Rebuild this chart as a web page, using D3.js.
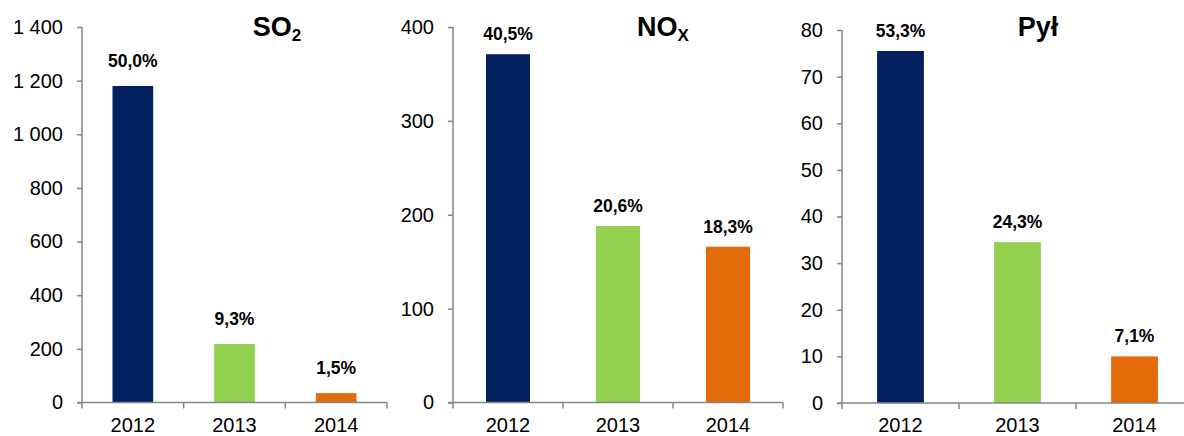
<!DOCTYPE html>
<html>
<head>
<meta charset="utf-8">
<script src="https://cdn.jsdelivr.net/npm/d3@7"></script>
<style>
  body { margin: 0; background: #fff; }
  text { font-family: Arial, "Liberation Sans", sans-serif; }
</style>
</head>
<body>
<div id="chart"></div>
<script>
var width = 1184, height = 436;

// data
var years = ["2012", "2013", "2014"];
var colors = ["#03215f", "#92d050", "#e36c0a"];

var so2Values = [1180, 218, 35];
var so2Labels = ["50,0%", "9,3%", "1,5%"];
var so2Ticks = [0, 200, 400, 600, 800, 1000, 1200, 1400];

var noxValues = [371, 188, 166];
var noxLabels = ["40,5%", "20,6%", "18,3%"];
var noxTicks = [0, 100, 200, 300, 400];

var pylValues = [75.5, 34.5, 10];
var pylLabels = ["53,3%", "24,3%", "7,1%"];
var pylTicks = [0, 10, 20, 30, 40, 50, 60, 70, 80];

var panels = [
  { title: "SO", sub: "2", values: so2Values, labels: so2Labels, ticks: so2Ticks, max: 1400,
    x0: 82, x1: 387, top: 27, bottom: 402.5, titleX: 277, gap: 25 },
  { title: "NO", sub: "X", values: noxValues, labels: noxLabels, ticks: noxTicks, max: 400,
    x0: 453, x1: 783, top: 27, bottom: 402.5, titleX: 663, gap: 20 },
  { title: "Pył", sub: "", values: pylValues, labels: pylLabels, ticks: pylTicks, max: 80,
    x0: 842, x1: 1193, top: 30, bottom: 403, titleX: 1038, gap: 20 }
];

var svg = d3.select("#chart").append("svg")
    .attr("width", width)
    .attr("height", height);

var axisColor = "#868686";
var fmt = function(d) { return d3.format(",")(d).replace(/,/g, " "); };

panels.forEach(drawPanel);

function drawPanel(p) {
  var g = svg.append("g");

  var x = d3.scaleBand()
      .domain(years)
      .range([p.x0, p.x1])
      .paddingInner(0.6)
      .paddingOuter(0.3);

  var y = d3.scaleLinear()
      .domain([0, p.max])
      .range([p.bottom, p.top]);

  // bars
  g.selectAll(".bar")
      .data(p.values)
    .enter().append("rect")
      .attr("class", "bar")
      .attr("x", function(d, i) { return x(years[i]); })
      .attr("width", x.bandwidth())
      .attr("y", function(d) { return y(d); })
      .attr("height", function(d) { return y(0) - y(d); })
      .attr("fill", function(d, i) { return colors[i]; });

  // percent labels
  g.selectAll(".pct")
      .data(p.values)
    .enter().append("text")
      .attr("class", "pct")
      .attr("x", function(d, i) { return x(years[i]) + x.bandwidth() / 2; })
      .attr("y", function(d) { return y(d) - p.gap + 6; })
      .attr("text-anchor", "middle")
      .style("font-size", "17.5px")
      .style("font-weight", "bold")
      .style("fill", "#000")
      .text(function(d, i) { return p.labels[i]; });

  // y axis
  var yAxis = g.append("g")
      .attr("transform", "translate(" + p.x0 + ",0)")
      .call(d3.axisLeft(y).tickValues(p.ticks).tickFormat(fmt).tickSize(5).tickPadding(14));
  yAxis.select(".domain").attr("d", "M0," + p.top + "V" + p.bottom);

  // x axis: ticks sit on band edges
  var edges = years.map(function(d) { return x(d) - x.step() * x.paddingOuter(); });
  edges.push(p.x1);
  var xAxis = g.append("g");
  xAxis.append("path")
      .attr("class", "domain")
      .attr("d", "M" + (p.x0 - 5) + "," + p.bottom + "H" + p.x1);
  xAxis.selectAll(".xtick")
      .data(edges)
    .enter().append("line")
      .attr("class", "xtick")
      .attr("x1", function(d) { return d; })
      .attr("x2", function(d) { return d; })
      .attr("y1", p.bottom)
      .attr("y2", p.bottom + 6);
  xAxis.selectAll(".xlabel")
      .data(years)
    .enter().append("text")
      .attr("class", "xlabel")
      .attr("x", function(d) { return x(d) + x.bandwidth() / 2; })
      .attr("y", 431.5)
      .attr("text-anchor", "middle")
      .style("font-size", "20px")
      .style("fill", "#000")
      .text(function(d) { return d; });

  g.selectAll(".domain, .tick line, .xtick")
      .attr("stroke", axisColor)
      .attr("stroke-width", 1.5)
      .attr("fill", "none");
  yAxis.selectAll(".tick text")
      .style("font-size", "20px")
      .style("fill", "#000");

  // title
  var t = g.append("text")
      .attr("x", p.titleX)
      .attr("y", 36)
      .attr("text-anchor", "middle")
      .style("font-size", "27px")
      .style("font-weight", "bold")
      .style("fill", "#000")
      .text(p.title);
  if (p.sub) {
    t.append("tspan")
        .attr("dy", 5)
        .style("font-size", "17px")
        .text(p.sub);
  }
}
</script>
</body>
</html>
